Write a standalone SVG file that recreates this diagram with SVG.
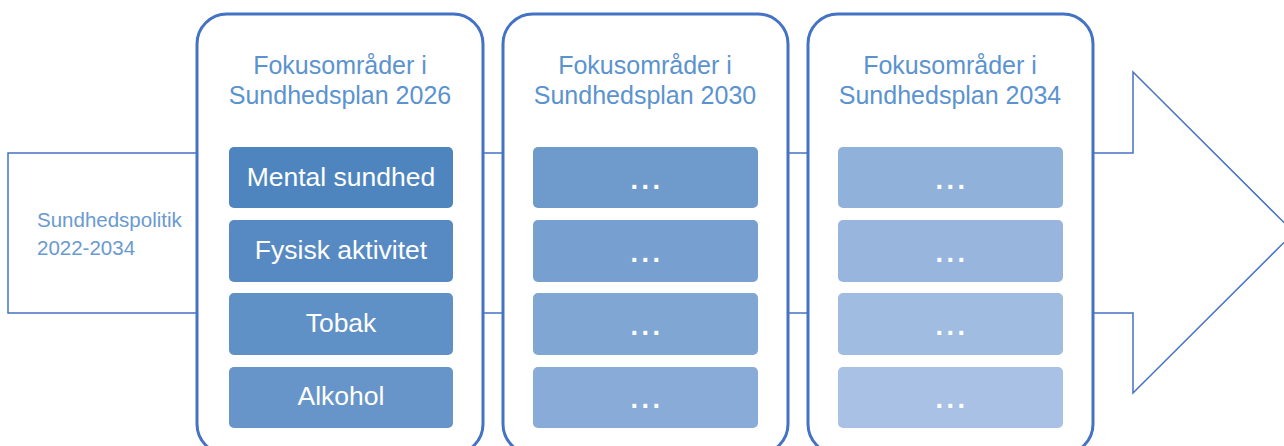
<svg xmlns="http://www.w3.org/2000/svg" width="1284" height="446" viewBox="0 0 1284 446">
<style>
.panel{fill:#fff;stroke:#4472C4;stroke-width:3}
.title{font-family:"Liberation Sans",Arial,sans-serif;font-size:25px;fill:#5B93CF;text-anchor:middle}
.box{stroke:none}
.lbl{font-family:"Liberation Sans",Arial,sans-serif;font-size:26.5px;fill:#fff;text-anchor:middle}
.dots{font-family:"Liberation Sans",Arial,sans-serif;font-size:27px;font-weight:bold;fill:#fff;text-anchor:middle;letter-spacing:3.5px}
.side{font-family:"Liberation Sans",Arial,sans-serif;font-size:20.5px;fill:#6A9AD0}
</style>
<g id="arrow">
<path d="M8,153 H1133 V72 L1294,232.5 L1133,393 V313 H8 Z" fill="#fff" stroke="#4472C4" stroke-width="1.5"/>
<text class="side" x="37" y="227">Sundhedspolitik</text>
<text class="side" x="37" y="255">2022-2034</text>
</g>
<g id="connectors"/>
<g id="panel2026">
<rect class="panel" x="197" y="14" width="286" height="440" rx="30"/>
<text class="title" x="340" y="74">Fokusområder i</text>
<text class="title" x="340" y="104">Sundhedsplan 2026</text>
<rect class="box" x="229" y="147" width="224" height="61" rx="5" fill="#4F85BF"/>
<text class="lbl" x="341" y="186">Mental sundhed</text>
<rect class="box" x="229" y="220" width="224" height="62" rx="5" fill="#578AC2"/>
<text class="lbl" x="341" y="259">Fysisk aktivitet</text>
<rect class="box" x="229" y="293" width="224" height="62" rx="5" fill="#5F90C6"/>
<text class="lbl" x="341" y="332">Tobak</text>
<rect class="box" x="229" y="367" width="224" height="61" rx="5" fill="#6795C9"/>
<text class="lbl" x="341" y="405">Alkohol</text>
</g>
<g id="panel2030">
<rect class="panel" x="503" y="14" width="285" height="440" rx="30"/>
<text class="title" x="645" y="74">Fokusområder i</text>
<text class="title" x="645" y="104">Sundhedsplan 2030</text>
<rect class="box" x="533" y="147" width="225" height="61" rx="5" fill="#6F9BCC"/>
<text class="dots" x="647" y="189">...</text>
<rect class="box" x="533" y="220" width="225" height="62" rx="5" fill="#77A0D0"/>
<text class="dots" x="647" y="262">...</text>
<rect class="box" x="533" y="293" width="225" height="62" rx="5" fill="#80A6D3"/>
<text class="dots" x="647" y="335">...</text>
<rect class="box" x="533" y="367" width="225" height="61" rx="5" fill="#88ABD7"/>
<text class="dots" x="647" y="408">...</text>
</g>
<g id="panel2034">
<rect class="panel" x="808" y="14" width="285" height="440" rx="30"/>
<text class="title" x="950" y="74">Fokusområder i</text>
<text class="title" x="950" y="104">Sundhedsplan 2034</text>
<rect class="box" x="838" y="147" width="225" height="61" rx="5" fill="#90B1DA"/>
<text class="dots" x="952" y="189">...</text>
<rect class="box" x="838" y="220" width="225" height="62" rx="5" fill="#98B6DD"/>
<text class="dots" x="952" y="262">...</text>
<rect class="box" x="838" y="293" width="225" height="62" rx="5" fill="#A0BCE1"/>
<text class="dots" x="952" y="335">...</text>
<rect class="box" x="838" y="367" width="225" height="61" rx="5" fill="#A8C1E4"/>
<text class="dots" x="952" y="408">...</text>
</g>
</svg>
